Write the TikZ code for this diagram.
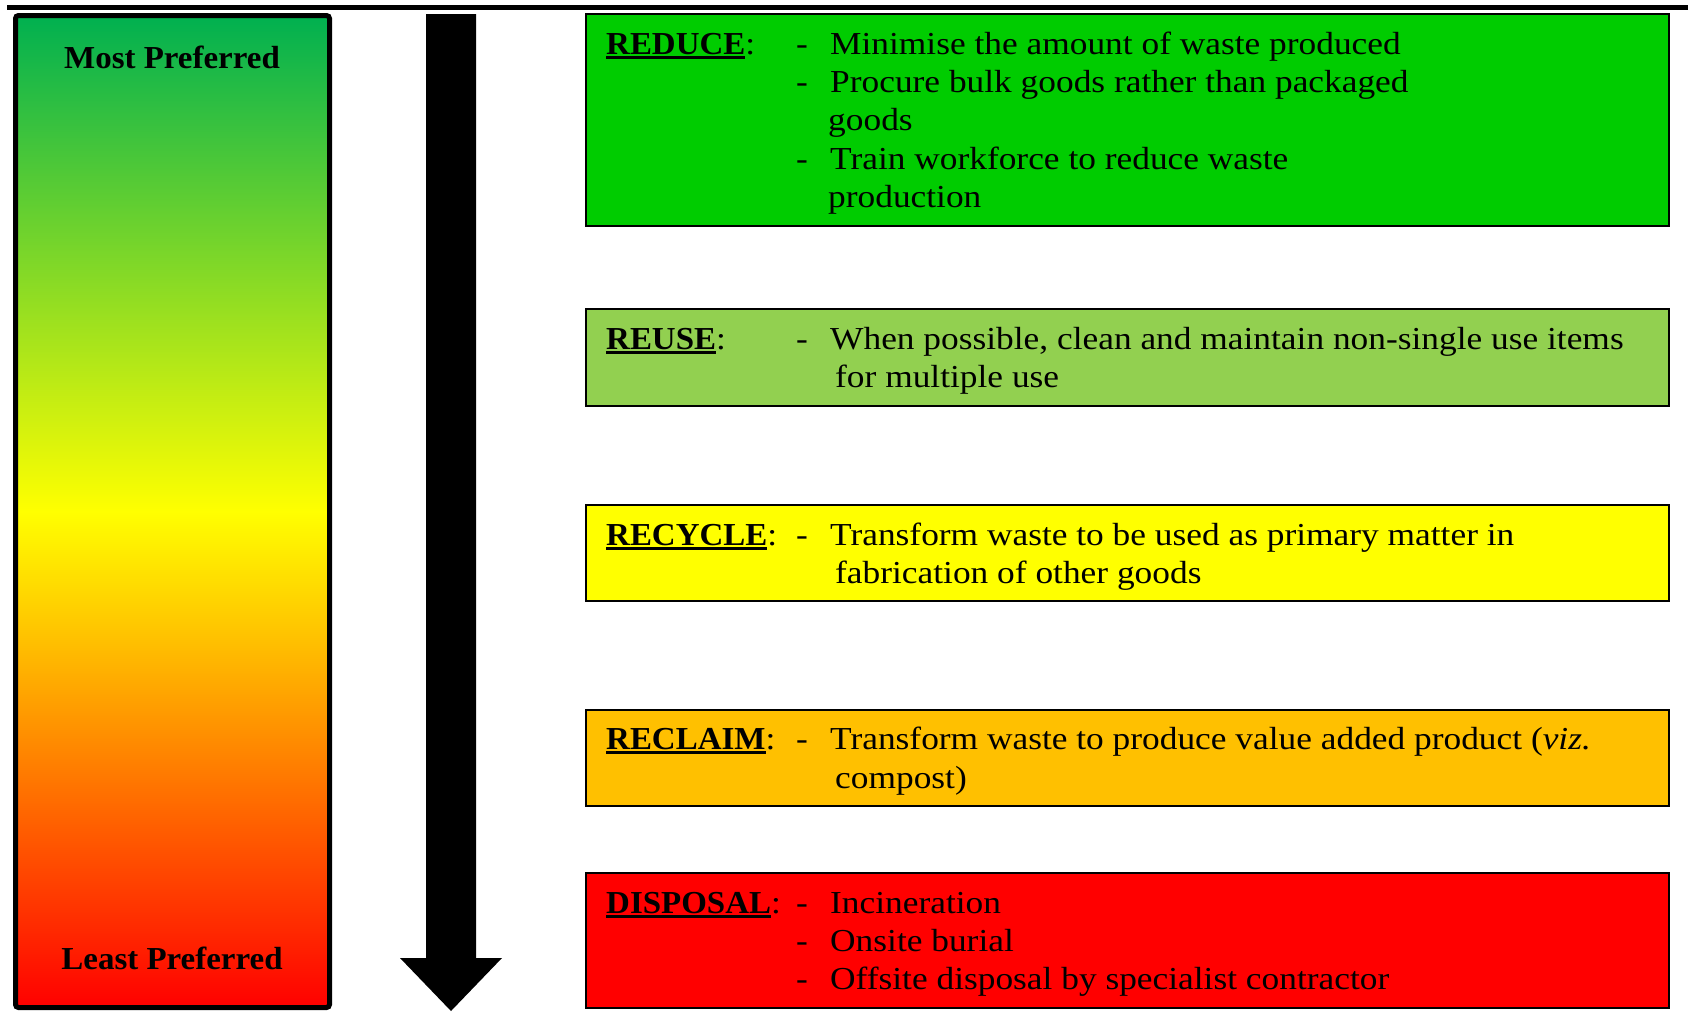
\documentclass[tikz,border=0pt]{standalone}
\usepackage{fontspec}
\setmainfont[FakeStretch=1.105]{Liberation Serif}
\newfontfamily\labfont[FakeStretch=1.03]{Liberation Serif}
\definecolor{gred}{RGB}{255,0,0}
\definecolor{gorange}{RGB}{255,192,0}
\definecolor{gyellow}{RGB}{255,255,0}
\definecolor{ggreen}{RGB}{0,176,80}
\definecolor{cReduce}{RGB}{0,204,0}
\definecolor{cReuse}{RGB}{146,208,80}
\definecolor{cRecycle}{RGB}{255,255,0}
\definecolor{cReclaim}{RGB}{255,192,0}
\definecolor{cDisposal}{RGB}{255,0,0}
\pgfdeclareverticalshading{bargrad}{100bp}{color(0bp)=(gred); color(25bp)=(gred); color(43.5bp)=(gorange); color(50bp)=(gyellow); color(75bp)=(ggreen); color(100bp)=(ggreen)}
\newcommand{\ulab}[1]{\setbox0\hbox{#1}\rlap{\rule[-5pt]{\wd0}{2.6pt}}\box0}
\newcommand{\lab}[1]{{\labfont\bfseries\ulab{#1}}:}
\tikzset{
  catbox/.style={draw=black, line width=1.8pt, minimum width=1083pt, inner sep=0pt},
  txt/.style={inner sep=0pt, anchor=base west, font=\fontsize{32}{38}\selectfont},
  btxt/.style={inner sep=0pt, anchor=base, font=\fontsize{32}{38}\selectfont\labfont\bfseries},
}
\begin{document}
\begin{tikzpicture}[x=1pt,y=-1pt]
\useasboundingbox (0,0) rectangle (1688,1021);
% top rule
\coordinate (tl) at (7,7.5);
\coordinate (tr) at (1688,7.5);
\draw[line width=5pt] (tl) -- (tr);
% gradient bar
\node[draw=black, line width=5pt, rounded corners=3pt, shade, shading=bargrad,
      minimum width=314pt, minimum height=992pt, inner sep=0pt] (bar) at (172.5,511.5) {};
\node[btxt] (most) at (172,68) {\fontsize{32}{38}\selectfont\labfont\bfseries Most Preferred};
\node[btxt] (least) at (172,969) {\fontsize{32}{38}\selectfont\labfont\bfseries Least Preferred};
% arrow
\fill[black] (426,14) -- (476,14) -- (476,958) -- (502,958) -- (451,1011) -- (400,958) -- (426,958) -- cycle;
% boxes
\node[catbox, fill=cReduce, minimum height=212pt] (reduce) at (1127.5,120) {};
\node[catbox, fill=cReuse, minimum height=97pt] (reuse) at (1127.5,357.5) {};
\node[catbox, fill=cRecycle, minimum height=96pt] (recycle) at (1127.5,553) {};
\node[catbox, fill=cReclaim, minimum height=96pt] (reclaim) at (1127.5,758) {};
\node[catbox, fill=cDisposal, minimum height=135pt] (disposal) at (1127.5,940.5) {};
% REDUCE
\node[txt] (l1) at (606,54) {\lab{REDUCE}};
\node[txt] (d1a) at (796,54) {-};
\node[txt] (t1a) at (830,54) {Minimise the amount of waste produced};
\node[txt] (d1b) at (796,92) {-};
\node[txt] (t1b) at (830,92) {Procure bulk goods rather than packaged};
\node[txt] (t1c) at (828,130) {goods};
\node[txt] (d1d) at (796,169) {-};
\node[txt] (t1d) at (830,169) {Train workforce to reduce waste};
\node[txt] (t1e) at (828,207) {production};
% REUSE
\node[txt] (l2) at (606,349) {\lab{REUSE}};
\node[txt] (d2a) at (796,349) {-};
\node[txt] (t2a) at (830,349) {When possible, clean and maintain non-single use items};
\node[txt] (t2b) at (835,387) {for multiple use};
% RECYCLE
\node[txt] (l3) at (606,545) {\lab{RECYCLE}};
\node[txt] (d3a) at (796,545) {-};
\node[txt] (t3a) at (830,545) {Transform waste to be used as primary matter in};
\node[txt] (t3b) at (835,583) {fabrication of other goods};
% RECLAIM
\node[txt] (l4) at (606,749) {\lab{RECLAIM}};
\node[txt] (d4a) at (796,749) {-};
\node[txt] (t4a) at (830,749) {Transform waste to produce value added product (\textit{viz.}};
\node[txt] (t4b) at (835,788) {compost)};
% DISPOSAL
\node[txt] (l5) at (606,913) {\lab{DISPOSAL}};
\node[txt] (d5a) at (796,913) {-};
\node[txt] (t5a) at (830,913) {Incineration};
\node[txt] (d5b) at (796,951) {-};
\node[txt] (t5b) at (830,951) {Onsite burial};
\node[txt] (d5c) at (796,989) {-};
\node[txt] (t5c) at (830,989) {Offsite disposal by specialist contractor};
\end{tikzpicture}
\end{document}
